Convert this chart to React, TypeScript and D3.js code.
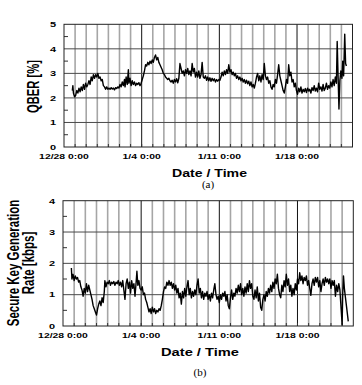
import React from 'react';
import * as d3 from 'd3';

// days since 12/28 0:00
const xTickDays = [0, 7, 14, 21];
const xTickLabels = ['12/28 0:00', '1/4 0:00', '1/11 0:00', '1/18 0:00'];
const totalDays = 26;

const qberTicks = [0, 1, 2, 3, 4, 5];
const skrTicks = [0, 1, 2, 3, 4];

// [day, QBER %]
const qberPoints: [number, number][] = [
  [0.75, 2.3], [0.8, 2.5], [0.85, 2.2], [0.95, 2.05], [1.05, 2.1], [1.15, 2.3], [1.25, 2.2], [1.35, 2.4],
  [1.45, 2.25], [1.55, 2.45], [1.65, 2.3], [1.75, 2.55], [1.85, 2.35], [1.95, 2.6], [2.05, 2.45], [2.15, 2.55],
  [2.25, 2.7], [2.35, 2.55], [2.45, 2.85], [2.55, 2.7], [2.65, 2.95], [2.75, 2.8], [2.85, 2.95], [2.95, 2.85],
  [3.05, 3.0], [3.15, 2.8], [3.25, 2.85], [3.35, 2.7], [3.45, 2.75], [3.55, 2.5], [3.65, 2.45], [3.75, 2.35],
  [3.85, 2.45], [3.95, 2.35], [4.05, 2.4], [4.15, 2.35], [4.25, 2.42], [4.35, 2.36], [4.45, 2.4], [4.55, 2.33],
  [4.65, 2.42], [4.75, 2.38], [4.85, 2.45], [4.95, 2.4], [5.05, 2.55], [5.15, 2.45], [5.25, 2.65], [5.35, 2.5],
  [5.45, 2.75], [5.5, 2.45], [5.6, 2.85], [5.7, 2.55], [5.8, 3.15], [5.85, 2.6], [5.95, 2.8], [6.05, 2.5],
  [6.15, 2.7], [6.25, 2.55], [6.35, 2.65], [6.45, 2.5], [6.55, 2.6], [6.65, 2.55], [6.75, 2.62], [6.85, 2.5],
  [6.95, 2.6], [7.05, 2.75], [7.15, 2.9], [7.25, 3.1], [7.35, 3.35], [7.45, 3.3], [7.55, 3.45], [7.65, 3.35],
  [7.75, 3.5], [7.85, 3.4], [7.95, 3.55], [8.05, 3.45], [8.15, 3.65], [8.25, 3.75], [8.35, 3.55], [8.45, 3.65],
  [8.55, 3.45], [8.65, 3.35], [8.75, 3.25], [8.85, 3.15], [8.95, 3.0], [9.05, 2.95], [9.15, 2.85], [9.25, 2.8],
  [9.35, 2.75], [9.45, 2.8], [9.55, 2.7], [9.65, 2.65], [9.75, 2.72], [9.85, 2.6], [9.95, 2.75], [10.05, 2.65],
  [10.15, 2.78], [10.25, 2.62], [10.35, 2.8], [10.45, 3.4], [10.55, 3.2], [10.65, 3.0], [10.75, 3.1], [10.85, 2.9],
  [10.95, 3.15], [11.05, 3.0], [11.15, 3.2], [11.25, 2.95], [11.35, 3.1], [11.45, 2.9], [11.55, 3.4], [11.65, 3.05],
  [11.75, 3.2], [11.85, 2.85], [11.95, 3.05], [12.05, 2.85], [12.15, 3.1], [12.25, 2.8], [12.35, 2.95], [12.45, 3.45],
  [12.55, 2.85], [12.65, 2.8], [12.75, 2.9], [12.85, 2.72], [12.95, 2.85], [13.05, 2.7], [13.15, 2.82], [13.25, 2.68],
  [13.35, 2.8], [13.45, 2.7], [13.55, 2.78], [13.65, 2.65], [13.75, 2.75], [13.85, 2.68], [13.95, 2.75], [14.05, 2.72],
  [14.15, 2.85], [14.25, 3.05], [14.35, 2.9], [14.45, 3.1], [14.55, 2.95], [14.65, 3.15], [14.75, 3.0], [14.85, 3.35],
  [14.95, 3.05], [15.05, 3.15], [15.15, 2.95], [15.25, 3.05], [15.35, 2.9], [15.45, 3.0], [15.55, 2.8], [15.65, 2.9],
  [15.75, 2.75], [15.85, 2.85], [15.95, 2.7], [16.05, 2.8], [16.15, 2.65], [16.25, 2.75], [16.35, 2.6], [16.45, 2.72],
  [16.55, 2.58], [16.65, 2.68], [16.75, 2.5], [16.85, 2.65], [16.95, 2.45], [17.05, 2.55], [17.15, 2.4], [17.25, 2.6],
  [17.35, 2.85], [17.45, 3.0], [17.55, 2.7], [17.65, 2.9], [17.75, 2.65], [17.85, 2.95], [17.95, 2.75], [18.05, 3.4],
  [18.15, 2.9], [18.25, 2.75], [18.35, 2.85], [18.45, 2.6], [18.55, 2.7], [18.65, 2.45], [18.75, 2.35], [18.85, 2.55],
  [18.95, 2.45], [19.05, 2.75], [19.15, 2.6], [19.25, 2.95], [19.35, 3.35], [19.45, 2.9], [19.55, 2.7], [19.65, 2.5],
  [19.75, 2.3], [19.85, 2.2], [19.95, 2.45], [20.05, 2.75], [20.15, 2.6], [20.25, 3.35], [20.35, 2.9], [20.45, 3.05],
  [20.55, 2.65], [20.65, 2.75], [20.75, 2.45], [20.85, 2.6], [20.95, 2.3], [21.05, 2.15], [21.15, 2.4], [21.25, 2.25],
  [21.35, 2.45], [21.45, 2.2], [21.55, 2.35], [21.65, 2.25], [21.75, 2.38], [21.85, 2.22], [21.95, 2.4], [22.05, 2.28],
  [22.15, 2.35], [22.25, 2.2], [22.35, 2.42], [22.45, 2.3], [22.55, 2.5], [22.65, 2.28], [22.75, 2.4], [22.85, 2.25],
  [22.95, 2.6], [23.05, 2.35], [23.15, 2.45], [23.25, 2.28], [23.35, 2.55], [23.45, 2.3], [23.55, 2.4], [23.65, 2.6],
  [23.75, 2.35], [23.85, 2.5], [23.95, 2.4], [24.05, 2.65], [24.15, 2.45], [24.25, 2.75], [24.35, 2.5], [24.45, 2.85],
  [24.55, 2.6], [24.62, 4.3], [24.7, 2.9], [24.78, 1.55], [24.86, 2.7], [24.95, 3.1], [25.05, 2.8], [25.12, 3.5],
  [25.2, 2.9], [25.3, 4.6], [25.38, 3.4], [25.45, 3.3],
];

// [day, secure key rate kbps]
const skrPoints: [number, number][] = [
  [0.75, 1.85], [0.8, 1.5], [0.9, 1.65], [1.0, 1.45], [1.1, 1.6], [1.2, 1.5], [1.3, 1.55], [1.4, 1.4],
  [1.5, 1.45], [1.6, 1.25], [1.7, 1.15], [1.8, 0.95], [1.9, 1.2], [2.0, 1.05], [2.1, 1.35], [2.2, 1.1],
  [2.3, 1.3], [2.4, 1.15], [2.5, 1.0], [2.6, 0.85], [2.7, 0.65], [2.8, 0.55], [2.9, 0.45], [3.0, 0.35],
  [3.1, 0.55], [3.2, 0.7], [3.3, 0.8], [3.4, 0.65], [3.5, 0.9], [3.6, 0.75], [3.7, 1.1], [3.75, 1.45],
  [3.85, 1.25], [3.95, 1.4], [4.05, 1.35], [4.15, 1.45], [4.25, 1.3], [4.35, 1.4], [4.45, 1.35], [4.55, 1.42],
  [4.65, 1.3], [4.75, 1.4], [4.85, 1.35], [4.95, 1.45], [5.05, 1.3], [5.15, 1.4], [5.25, 1.25], [5.35, 1.45],
  [5.45, 1.15], [5.55, 0.85], [5.65, 1.35], [5.75, 1.5], [5.85, 1.2], [5.95, 1.4], [6.05, 1.05], [6.15, 1.45],
  [6.25, 1.2], [6.35, 1.35], [6.45, 0.95], [6.55, 1.4], [6.62, 1.75], [6.7, 1.3], [6.8, 1.45], [6.9, 1.2],
  [7.0, 1.15], [7.1, 1.25], [7.2, 1.0], [7.3, 1.05], [7.4, 0.85], [7.5, 0.75], [7.6, 0.6], [7.7, 0.45],
  [7.8, 0.55], [7.9, 0.4], [8.0, 0.6], [8.1, 0.45], [8.2, 0.55], [8.3, 0.4], [8.4, 0.5], [8.5, 0.45],
  [8.6, 0.55], [8.7, 0.5], [8.8, 0.65], [8.9, 0.85], [9.0, 1.1], [9.1, 1.25], [9.2, 1.2], [9.3, 1.4],
  [9.4, 1.3], [9.5, 1.45], [9.6, 1.3], [9.7, 1.4], [9.8, 1.2], [9.9, 1.35], [10.0, 1.15], [10.1, 1.3],
  [10.2, 1.05], [10.3, 1.2], [10.4, 0.9], [10.5, 1.05], [10.6, 0.7], [10.7, 1.1], [10.8, 0.9], [10.9, 1.2],
  [11.0, 0.95], [11.1, 1.25], [11.2, 1.45], [11.3, 1.0], [11.4, 1.2], [11.5, 0.9], [11.6, 1.1], [11.7, 0.95],
  [11.8, 1.15], [11.9, 1.0], [12.0, 1.3], [12.1, 1.5], [12.2, 1.05], [12.3, 1.2], [12.4, 0.9], [12.5, 1.1],
  [12.6, 0.85], [12.7, 1.05], [12.8, 0.95], [12.9, 1.1], [13.0, 0.85], [13.1, 1.0], [13.2, 0.8], [13.3, 1.05],
  [13.4, 0.9], [13.5, 1.15], [13.6, 1.35], [13.7, 1.0], [13.8, 0.85], [13.9, 0.95], [14.0, 0.75], [14.1, 1.0],
  [14.2, 0.85], [14.3, 1.05], [14.4, 0.95], [14.5, 1.1], [14.6, 0.8], [14.7, 1.0], [14.8, 0.65], [14.9, 0.55],
  [15.0, 0.9], [15.1, 1.15], [15.2, 0.85], [15.3, 1.05], [15.4, 0.95], [15.5, 1.2], [15.6, 1.05], [15.7, 1.3],
  [15.8, 1.1], [15.9, 1.35], [16.0, 1.0], [16.1, 1.2], [16.2, 0.95], [16.3, 1.25], [16.4, 1.05], [16.5, 1.35],
  [16.6, 1.1], [16.7, 1.45], [16.8, 1.2], [16.9, 1.35], [17.0, 0.95], [17.1, 0.85], [17.2, 1.15], [17.3, 0.9],
  [17.4, 1.25], [17.5, 0.8], [17.6, 1.05], [17.7, 0.6], [17.8, 0.5], [17.9, 0.85], [18.0, 1.0], [18.1, 0.8],
  [18.2, 1.1], [18.3, 0.95], [18.4, 1.2], [18.5, 1.05], [18.6, 1.3], [18.7, 1.1], [18.8, 1.4], [18.9, 1.2],
  [19.0, 1.5], [19.1, 1.35], [19.2, 1.65], [19.3, 1.2], [19.4, 1.0], [19.5, 0.9], [19.6, 1.3], [19.7, 1.1],
  [19.8, 1.45], [19.9, 1.25], [20.0, 1.65], [20.1, 1.3], [20.2, 1.5], [20.3, 1.1], [20.4, 1.3], [20.5, 0.95],
  [20.6, 1.2], [20.7, 1.0], [20.8, 1.35], [20.9, 1.15], [21.0, 1.5], [21.1, 1.35], [21.2, 1.7], [21.3, 1.45],
  [21.4, 1.6], [21.5, 1.35], [21.6, 1.55], [21.7, 1.45], [21.8, 1.6], [21.9, 1.3], [22.0, 1.45], [22.1, 1.2],
  [22.2, 0.98], [22.3, 1.35], [22.4, 1.5], [22.5, 1.3], [22.6, 1.55], [22.7, 1.4], [22.8, 1.55], [22.9, 1.25],
  [23.0, 1.45], [23.1, 1.1], [23.2, 1.35], [23.3, 1.5], [23.4, 1.3], [23.5, 1.55], [23.6, 1.4], [23.7, 1.5],
  [23.8, 1.35], [23.9, 1.5], [24.0, 1.2], [24.1, 1.45], [24.2, 1.3], [24.3, 1.45], [24.4, 0.95], [24.5, 1.3],
  [24.6, 1.1], [24.7, 1.35], [24.8, 1.15], [24.9, 0.6], [25.0, 0.05], [25.05, 1.0], [25.12, 1.6], [25.2, 1.2],
  [25.3, 0.9], [25.4, 0.6], [25.5, 0.3], [25.55, 0.15],
];

const sansBold = { fontFamily: '"Liberation Sans", Arial, sans-serif', fontWeight: 'bold' as const };

type PanelProps = {
  points: [number, number][];
  yTicks: number[];
  left: number;
  right: number;
  top: number;
  bottom: number;
  titleX: number;
  titleLength: number;
  caption: string;
  captionX: number;
  captionY: number;
  yLabel: React.ReactNode;
};

const Panel = ({ points, yTicks, left, right, top, bottom, titleX, titleLength, caption, captionX, captionY, yLabel }: PanelProps) => {
  const x = d3.scaleLinear().domain([0, totalDays]).range([left, right]);
  const yMax = d3.max(yTicks) as number;
  const y = d3.scaleLinear().domain([0, yMax]).range([bottom, top]);
  const line = d3.line<[number, number]>().x(d => x(d[0])).y(d => y(d[1]));
  const days = d3.range(1, totalDays);
  const minor = d3.range(0.5, yMax, 1);

  return (
    <g>
      {days.map(d => (
        <line key={'d' + d} x1={x(d)} x2={x(d)} y1={top} y2={bottom}
          stroke={d % 7 === 0 ? '#111' : '#a6a6a6'} strokeWidth={d % 7 === 0 ? 1 : 1.6} />
      ))}
      {yTicks.slice(1, -1).map(t => (
        <line key={'h' + t} x1={left} x2={right} y1={y(t)} y2={y(t)} stroke="#4a4a4a" strokeWidth={1} />
      ))}
      {minor.map(t => (
        <line key={'m' + t} x1={left} x2={left + 4} y1={y(t)} y2={y(t)} stroke="#333" strokeWidth={1} />
      ))}
      {days.map(d => (
        <line key={'xt' + d} x1={x(d)} x2={x(d)} y1={bottom} y2={bottom - 3} stroke="#333" strokeWidth={1} />
      ))}
      <rect x={left} y={top} width={right - left} height={bottom - top} fill="none" stroke="#222" strokeWidth={1} />
      <path d={line(points) || ''} fill="none" stroke="#000" strokeWidth={1.4} strokeLinejoin="round" />
      {yTicks.map(t => (
        <g key={'yl' + t} transform={`translate(${left - 8},${y(t) + 2.8}) scale(1.37,1)`}>
          <text textAnchor="end" fontSize={8} {...sansBold}>{t}</text>
        </g>
      ))}
      {xTickDays.map((d, i) => (
        <g key={'xl' + d} transform={`translate(${x(d)},${bottom + 12}) scale(1.37,1)`}>
          <text textAnchor="middle" fontSize={7.6} {...sansBold}>{xTickLabels[i]}</text>
        </g>
      ))}
      <text x={titleX} y={bottom + 30} textAnchor="middle" fontSize={11.5} textLength={titleLength}
        lengthAdjust="spacingAndGlyphs" {...sansBold}>Date / Time</text>
      <text x={captionX} y={captionY} textAnchor="middle" fontSize={11}
        fontFamily='"Liberation Serif", "Times New Roman", serif'>{caption}</text>
      {yLabel}
    </g>
  );
};

const App = () => (
  <svg width={362} height={385} style={{ position: 'absolute', left: 0, top: 0, background: '#fff' }}>
    <Panel
      points={qberPoints} yTicks={qberTicks}
      left={64} right={352.5} top={24.3} bottom={147}
      titleX={209.5} titleLength={75} caption="(a)" captionX={208} captionY={188}
      yLabel={
        <g transform="translate(33,86.5) rotate(-90) scale(1,1.45)">
          <text textAnchor="middle" dy="0.36em" fontSize={11.2} {...sansBold}>QBER [%]</text>
        </g>
      }
    />
    <Panel
      points={skrPoints} yTicks={skrTicks}
      left={63} right={353.3} top={200.7} bottom={326}
      titleX={200} titleLength={78} caption="(b)" captionX={200} captionY={376}
      yLabel={
        <g transform="translate(20.5,263) rotate(-90) scale(1,1.45)">
          <text textAnchor="middle" y={-5} dy="0.36em" fontSize={11.5} {...sansBold}>Secure Key Generation</text>
          <text textAnchor="middle" y={5.5} dy="0.36em" fontSize={11.5} {...sansBold}>Rate [kbps]</text>
        </g>
      }
    />
  </svg>
);

export default App;
